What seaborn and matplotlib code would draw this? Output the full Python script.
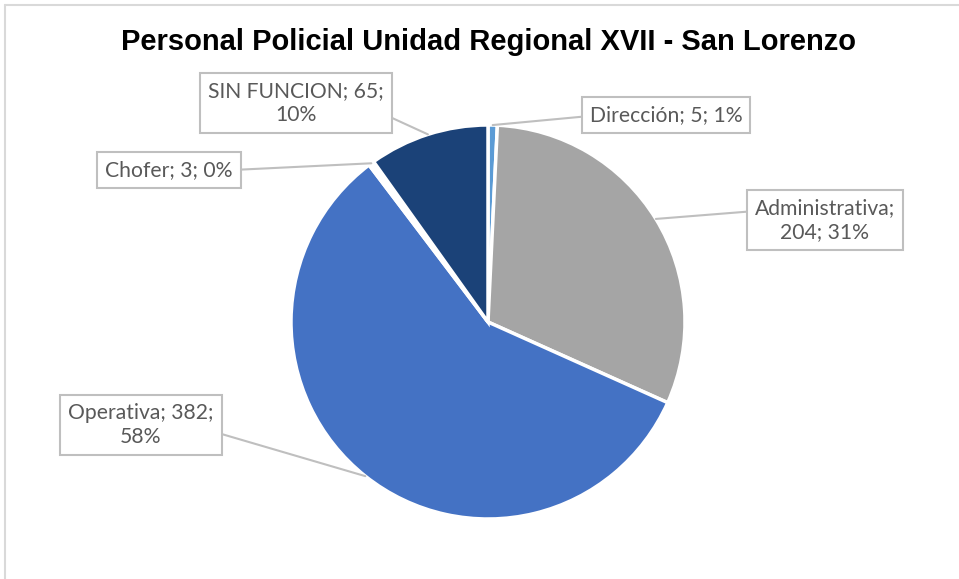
import numpy as np
import matplotlib
matplotlib.use("Agg")
import matplotlib.pyplot as plt
import seaborn as sns
from matplotlib.lines import Line2D

# ---- data ----
categories = ["Dirección", "Administrativa", "Operativa", "Chofer", "SIN FUNCION"]
values = [5, 204, 382, 3, 65]
percent_labels = ["1%", "31%", "58%", "0%", "10%"]
label_texts = ["Dirección; 5; 1%", "Administrativa;\n204; 31%", "Operativa; 382;\n58%",
               "Chofer; 3; 0%", "SIN FUNCION; 65;\n10%"]
colors = ["#5B9BD5", "#A5A5A5", "#4472C4", "#FFFFFF", "#1B4278"]
title = "Personal Policial Unidad Regional XVII - San Lorenzo"

sns.set_theme(style="white")
plt.rcParams['font.family'] = ['Lato', 'DejaVu Sans']

W, H = 959, 579
fig = plt.figure(figsize=(W / 100, H / 100), dpi=100)
ax = fig.add_axes([0, 0, 1, 1])

cx, cy, r = 488, H - 322, 197
wedges, _ = ax.pie(values, colors=colors, startangle=90, counterclock=False,
                   center=(cx, cy), radius=r, frame=True,
                   wedgeprops=dict(edgecolor='white', linewidth=2.5))
ax.set_xlim(0, W)
ax.set_ylim(0, H)
ax.set_aspect('equal')
ax.axis('off')

# label box centers (pixel coords, y from top) and attach side
box_pos = [(666, 115), (825, 220), (141, 425), (169, 170), (296, 103)]
relpos = [(0, 0.45), (0, 0.7), (1, 0.35), (1, 0.5), (1, 0.25)]

total = sum(values)
cum = np.cumsum([0] + values)
for i, (txt, (bx, by)) in enumerate(zip(label_texts, box_pos)):
    mid = (cum[i] + cum[i + 1]) / 2 / total * 2 * np.pi
    ax_x = cx + r * np.sin(mid)
    ax_y = cy + r * np.cos(mid)
    ax.annotate(txt, xy=(ax_x, ax_y), xytext=(bx, H - by), ha='center', va='center',
                fontsize=15.2, color='#595959', multialignment='center', linespacing=1.3,
                bbox=dict(boxstyle='square,pad=0.38', fc='white', ec='#BFBFBF', lw=1.5),
                arrowprops=dict(arrowstyle='-', color='#BFBFBF', lw=1.5,
                                relpos=relpos[i], shrinkA=0, shrinkB=0))

fig.text(488 / W, 1 - 42 / H, title, ha='center', va='center', fontsize=21,
         fontweight='bold', color='black', family=['Liberation Sans', 'DejaVu Sans'])

# chart frame edges (top and left)
fig.add_artist(Line2D([5 / W, 1], [1 - 5 / H, 1 - 5 / H], color='#D9D9D9', lw=1.5))
fig.add_artist(Line2D([5 / W, 5 / W], [0, 1 - 5 / H], color='#D9D9D9', lw=1.5))

fig.savefig("out.png", dpi=100)
